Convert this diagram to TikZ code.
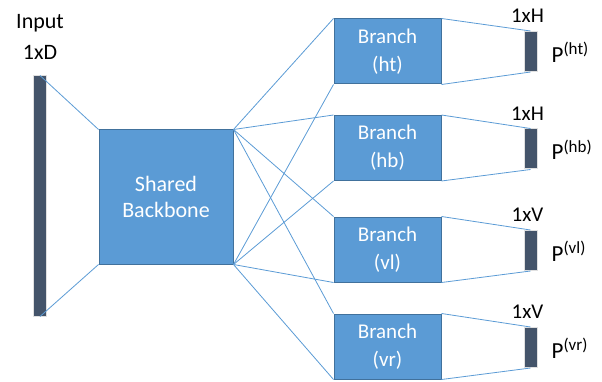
\documentclass[tikz,border=0pt]{standalone}
\usepackage{fontspec}
\setmainfont{Carlito}
\usetikzlibrary{positioning}
\definecolor{boxblue}{HTML}{5B9BD5}
\definecolor{boxedge}{HTML}{41719C}
\definecolor{bardark}{HTML}{44546A}
\newcommand{\plabel}[1]{P{\fontsize{17}{17}\selectfont\raisebox{7.5pt}{(#1)}}}

\begin{document}
\begin{tikzpicture}[x=1pt,y=-1pt,
  block/.style={draw=boxedge, line width=1pt, fill=boxblue, text=white, inner sep=0pt, align=center},
  branch/.style={block, minimum width=107pt, minimum height=65pt, font=\fontsize{21}{28}\selectfont},
  vec/.style={draw=black!12, line width=1pt, fill=bardark, inner sep=0pt, minimum width=13pt},
  dimlab/.style={inner sep=0pt, text height=14pt, text depth=0pt, font=\fontsize{21}{25}\selectfont},
  plab/.style={inner sep=0pt, font=\fontsize{23}{27}\selectfont},
  link/.style={draw=boxblue, line width=0.8pt}]
  \useasboundingbox (0,0) rectangle (602,382);

  % input vector
  \node[vec, minimum height=240pt] (input) at (40,196) {};
  \node[dimlab, font=\fontsize{22}{26}\selectfont, above=16pt of input] (inputdim) {1xD};
  \node[dimlab, font=\fontsize{22}{26}\selectfont, above=16pt of inputdim] (inputname) {Input};

  \node[block, minimum width=134pt, minimum height=134pt, font=\fontsize{22}{26.5}\selectfont] (backbone) at (166,197) {Shared\\Backbone};

  % branches
  \node[branch] (ht) at (387.5,51.5) {Branch\\(ht)};
  \node[branch] (hb) at (387.5,148) {Branch\\(hb)};
  \node[branch] (vl) at (387.5,249.5) {Branch\\(vl)};
  \node[branch] (vr) at (387.5,346.5) {Branch\\(vr)};

  % outputs
  \node[vec, minimum height=40pt] (outht) at (530.5,51.5) {};
  \node[vec, minimum height=40pt] (outhb) at (530.5,149) {};
  \node[vec, minimum height=40pt] (outvl) at (530.5,250.5) {};
  \node[vec, minimum height=40pt] (outvr) at (530.5,347.5) {};

  \node[dimlab, above=8pt of outht, xshift=-3pt] (dimht) {1xH};
  \node[dimlab, above=8pt of outhb, xshift=-3pt] (dimhb) {1xH};
  \node[dimlab, above=8pt of outvl, xshift=-3pt] (dimvl) {1xV};
  \node[dimlab, above=8pt of outvr, xshift=-3pt] (dimvr) {1xV};

  \node[plab, right=14pt of outht, yshift=-1pt] (pht) {\plabel{ht}};
  \node[plab, right=14pt of outhb, yshift=-1pt] (phb) {\plabel{hb}};
  \node[plab, right=14pt of outvl, yshift=-1pt] (pvl) {\plabel{vl}};
  \node[plab, right=14pt of outvr, yshift=-1pt] (pvr) {\plabel{vr}};

  \draw[link] (input.north) -- (backbone.north west);
  \draw[link] (input.south) -- (backbone.south west);
  \foreach \b in {ht,hb,vl,vr} {
    \draw[link] (backbone.north east) -- (\b.north west);
    \draw[link] (backbone.south east) -- (\b.south west);
    \draw[link] (\b.north east) -- (out\b.north);
    \draw[link] (\b.south east) -- (out\b.south);
  }
\end{tikzpicture}
\end{document}
